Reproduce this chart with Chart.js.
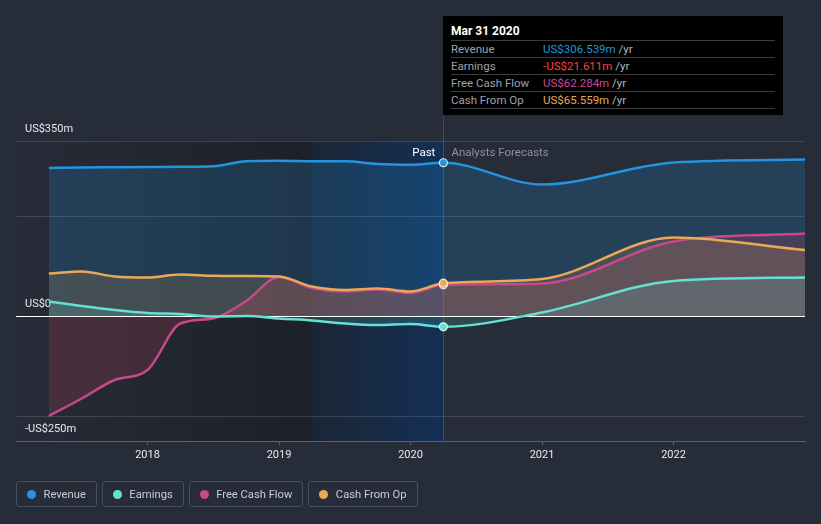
<!DOCTYPE html>
<html><head><meta charset="utf-8">
<script src="https://cdn.jsdelivr.net/npm/chart.js@4.4.0/dist/chart.umd.min.js"></script>
<style>
html,body{margin:0;padding:0;background:#262c38;width:821px;height:524px;overflow:hidden;font-family:Roboto,"Noto Sans",sans-serif;}
#wrap{position:relative;width:821px;height:524px;}
#c{position:absolute;left:0;top:0;}
#tip{position:absolute;top:16px;width:340px;height:99px;background:#000;box-sizing:border-box;padding:0 8px;}
#tip .t{position:absolute;left:8px;top:7px;height:16px;line-height:16px;font-size:12px;font-weight:bold;color:#fff;}
#tip .rows{position:absolute;left:8px;right:8px;top:24px;border-bottom:1px solid #3c3c3c;}
#tip .r{height:16px;line-height:16px;border-top:1px solid #3c3c3c;font-size:11.5px;color:#9ea3aa;white-space:nowrap;}
#tip .r span.l{display:inline-block;width:92px;}
#tip .r span.u{color:#b4b8be;}
#legend{position:absolute;left:16px;top:481px;height:26px;display:flex;gap:5px;}
.li{box-sizing:border-box;height:26px;border:1px solid #4a505b;border-radius:3px;display:flex;align-items:center;padding:0 10px 0 10px;font-size:11.2px;color:#c9cdd3;white-space:nowrap;}
.li i{display:inline-block;width:9px;height:9px;border-radius:50%;margin-right:7.5px;}
</style>
</head><body>
<div id="wrap">
<canvas id="c" width="821" height="524"></canvas>
<div id="tip"></div>
<div id="legend"></div>
</div>
<script>
// ---- data (US$ millions) ----
const periods      = [2017.25, 2017.5, 2017.75, 2018.0, 2018.25, 2018.5, 2018.75, 2019.0, 2019.25, 2019.5, 2019.75, 2020.0, 2020.25, 2021.0, 2022.0, 2023.0];
const revenue      = [296, 297, 297.5, 298, 298.5, 299.5, 309.5, 310.5, 309.5, 309.5, 304, 302.5, 306.539, 263, 307, 313];
const earnings     = [29, 20, 12, 6, 4, -1, 0, -5, -9, -15, -18, -16, -21.611, 7, 70, 77];
const freeCashFlow = [-200, -165, -128, -108, -15, -5, 30, 78, 56, 49, 53, 46, 62.284, 65, 149, 165];
const cashFromOp   = [85, 89, 79, 77, 83, 80.5, 80, 79, 59, 52, 55, 49, 65.559, 74, 157, 132];
const seriesNames  = ['Revenue', 'Earnings', 'Free Cash Flow', 'Cash From Op'];
const seriesColors = ['#2394df', '#64e1d2', '#c8488a', '#e9a957'];
const fillColors   = ['rgba(35,148,223,0.2)', 'rgba(100,225,210,0.16)', 'rgba(196,62,90,0.22)', 'rgba(233,169,87,0.17)'];
const valueColors  = ['#2394df', '#ff4040', '#d0479a', '#e9a957'];
const tooltipValues = ['US$306.539m', '-US$21.611m', 'US$62.284m', 'US$65.559m'];
const tooltipTitle = 'Mar 31 2020';
const yTickValues  = [-250, -200, 0, 200, 350];
const yTickLabels  = {'-250': '-US$250m', '0': 'US$0', '350': 'US$350m'};
const xTickYears   = [2018, 2019, 2020, 2021, 2022];
const xMin = 2017, xMax = 2023;
const pastEnd = 2020.25, pastShadeStart = 2019.25;
const pastIndex = periods.indexOf(pastEnd);

function pts(arr){ return periods.map((p,i)=>({x:p,y:arr[i]})); }

const allSeries = [revenue, earnings, freeCashFlow, cashFromOp];
const orders = [4, 1, 3, 2];
const datasets = allSeries.map((arr,i)=>({
  label: seriesNames[i],
  data: pts(arr),
  borderColor: seriesColors[i],
  backgroundColor: fillColors[i],
  borderWidth: 2.5,
  fill: 'origin',
  cubicInterpolationMode: 'monotone',
  order: orders[i],
  pointRadius: ctx => ctx.dataIndex === pastIndex ? 4 : 0,
  pointBackgroundColor: seriesColors[i],
  pointBorderColor: 'rgba(255,255,255,0.85)',
  pointBorderWidth: 1.2
}));

const bgPlugin = {
  id: 'bgRegions',
  beforeDraw(chart){
    const {ctx, chartArea:a, scales:{x}} = chart;
    const xs = x.getPixelForValue(pastShadeStart), xe = x.getPixelForValue(pastEnd);
    ctx.save();
    let g = ctx.createLinearGradient(a.left,0,xs,0);
    g.addColorStop(0,'rgba(38,44,56,1)');
    g.addColorStop(1,'rgba(29,32,39,1)');
    ctx.fillStyle = g; ctx.fillRect(a.left, a.top, xs-a.left, a.bottom-a.top);
    g = ctx.createLinearGradient(xs,0,xe,0);
    g.addColorStop(0,'rgba(27,38,53,1)');
    g.addColorStop(1,'rgba(20,47,86,1)');
    ctx.fillStyle = g; ctx.fillRect(xs, a.top, xe-xs, a.bottom-a.top);
    ctx.strokeStyle = 'rgba(50,90,150,0.8)'; ctx.lineWidth = 1;
    ctx.beginPath(); ctx.moveTo(Math.round(xe)+0.5, 115); ctx.lineTo(Math.round(xe)+0.5, a.bottom); ctx.stroke();
    ctx.restore();
  },
  beforeDatasetsDraw(chart){
    const {ctx, chartArea:a, scales:{y}} = chart;
    const y0 = Math.round(y.getPixelForValue(0))+0.5;
    ctx.save();
    ctx.strokeStyle = '#ffffff'; ctx.lineWidth = 1;
    ctx.beginPath(); ctx.moveTo(a.left, y0); ctx.lineTo(a.right, y0); ctx.stroke();
    ctx.restore();
  },
  afterDatasetsDraw(chart){
    const {ctx, scales:{x}} = chart;
    const xe = x.getPixelForValue(pastEnd);
    ctx.save();
    ctx.font = '11.5px Roboto, "Noto Sans", sans-serif';
    ctx.textBaseline = 'middle';
    ctx.textAlign = 'right'; ctx.fillStyle = '#ffffff';
    ctx.fillText('Past', xe-8, 153);
    ctx.textAlign = 'left'; ctx.fillStyle = '#8d929b';
    ctx.fillText('Analysts Forecasts', xe+8, 153);
    ctx.restore();
  }
};

const chart = new Chart(document.getElementById('c'), {
  type: 'line',
  data: { datasets },
  options: {
    responsive: false,
    animation: false,
    events: [],
    layout: { padding: { left: 16, right: 16, top: 141, bottom: 53 } },
    plugins: { legend: { display: false }, tooltip: { enabled: false }, filler: { drawTime: 'beforeDatasetsDraw' } },
    scales: {
      x: {
        type: 'linear', min: xMin, max: xMax,
        afterBuildTicks: s => { s.ticks = xTickYears.map(v=>({value:v})); },
        afterFit: s => { s.height = 30; },
        grid: { drawOnChartArea: false, drawTicks: true, tickLength: 4, color: 'rgba(255,255,255,0.25)' },
        border: { color: 'rgba(255,255,255,0.25)' },
        ticks: { color: '#e8eaed', font: { family: 'Roboto', size: 11 }, padding: 4, maxRotation: 0, autoSkip: false, callback: v => String(v) }
      },
      y: {
        min: -250, max: 350,
        afterBuildTicks: s => { s.ticks = yTickValues.map(v=>({value:v})); },
        afterFit: s => { s.width = 0; },
        grid: { drawTicks: false, color: c => (c.tick && (c.tick.value === -200 || c.tick.value === 200 || c.tick.value === 350)) ? 'rgba(255,255,255,0.13)' : 'rgba(0,0,0,0)' },
        border: { display: false },
        ticks: { mirror: true, padding: 9, labelOffset: -12, color: '#e8eaed', font: { family: 'Roboto', size: 11 }, autoSkip: false, callback: v => yTickLabels[String(v)] || '' }
      }
    }
  },
  plugins: [bgPlugin]
});

// tooltip box (static, anchored at past/forecast boundary)
const tip = document.getElementById('tip');
tip.style.left = Math.round(chart.scales.x.getPixelForValue(pastEnd)) + 'px';
let html = `<div class="t">${tooltipTitle}</div><div class="rows">`;
seriesNames.forEach((n,i)=>{
  html += `<div class="r"><span class="l">${n}</span><span style="color:${valueColors[i]}">${tooltipValues[i]}</span> <span class="u">/yr</span></div>`;
});
html += '</div>';
tip.innerHTML = html;

// legend
const lg = document.getElementById('legend');
lg.innerHTML = seriesNames.map((n,i)=>`<div class="li"><i style="background:${seriesColors[i]}"></i>${n}</div>`).join('');
</script>
</body></html>
